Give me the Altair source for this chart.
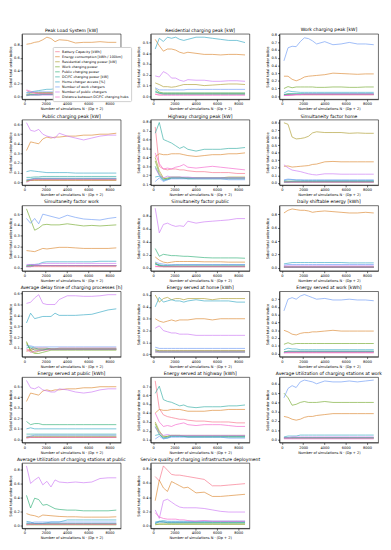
import altair as alt
import pandas as pd

X = [192, 576, 960, 1344, 1728, 2112, 2496, 2880, 3264, 4032, 4800, 5568, 6336, 7104, 7872, 8640]

PARAMS = ["Battery Capacity [kWh]", "Energy consumption [kWh / 100km]",
          "Residential charging power [kW]", "Work charging power",
          "Public charging power", "DC/FC charging power [kW]",
          "Home charger access [%]", "Number of work chargers",
          "Number of public chargers", "Distance between DC/FC charging hubs"]
COLORS = ["#f77189", "#dc8932", "#ae9d31", "#77ab31", "#33b07a",
          "#36ada4", "#38a9c5", "#6e9bf4", "#cc7af4", "#f565cc"]

TITLES = ["Peak Load System [kW]", "Residential charging peak [kW]", "Work charging peak [kW]",
          "Public charging peak [kW]", "Highway charging peak [kW]", "Simultaneity factor home",
          "Simultaneity factor work", "Simultaneity factor public", "Daily shiftable energy [kWh]",
          "Average delay time of charging processes [h]", "Energy served at home [kWh]",
          "Energy served at work [kWh]", "Energy served at public [kWh]",
          "Energy served at highway [kWh]", "Average Utilization of charging stations at work",
          "Average Utilization of charging stations at public",
          "Service quality of charging infrastructure deployment"]

P01 = [
 [0.09,0.06,0.05,0.05,0.05,0.05,0.05,0.05,0.05,0.05,0.05,0.05,0.05,0.05,0.05,0.05],
 [0.81,0.82,0.84,0.85,0.88,0.92,0.90,0.85,0.88,0.87,0.83,0.84,0.84,0.85,0.84,0.84],
 [0.03,0.05,0.06,0.06,0.06,0.06,0.06,0.06,0.06,0.06,0.06,0.06,0.06,0.06,0.06,0.06],
 [0.02,0.03,0.03,0.04,0.04,0.04,0.04,0.04,0.04,0.04,0.04,0.04,0.04,0.04,0.04,0.04],
 [0.01,0.02,0.02,0.02,0.03,0.03,0.03,0.03,0.03,0.03,0.03,0.03,0.03,0.03,0.03,0.03],
 [0.02,0.03,0.03,0.03,0.03,0.03,0.03,0.03,0.03,0.03,0.03,0.03,0.03,0.03,0.03,0.03],
 [0.06,0.07,0.08,0.09,0.10,0.11,0.11,0.12,0.11,0.11,0.11,0.11,0.11,0.10,0.10,0.10],
 [0.05,0.06,0.07,0.07,0.07,0.07,0.07,0.07,0.07,0.07,0.07,0.07,0.07,0.07,0.07,0.07],
 [0.02,0.02,0.02,0.02,0.02,0.02,0.02,0.02,0.02,0.02,0.02,0.02,0.02,0.02,0.02,0.02],
 [0.10,0.08,0.05,0.04,0.04,0.04,0.04,0.04,0.04,0.04,0.04,0.04,0.04,0.04,0.04,0.04]]

P02 = [
 [0.02,0.02,0.02,0.02,0.02,0.02,0.02,0.02,0.02,0.02,0.02,0.02,0.02,0.02,0.02,0.02],
 [0.53,0.47,0.42,0.44,0.44,0.43,0.41,0.40,0.41,0.40,0.39,0.39,0.385,0.39,0.39,0.385],
 [0.125,0.11,0.09,0.09,0.085,0.09,0.10,0.11,0.11,0.11,0.10,0.105,0.11,0.115,0.115,0.11],
 [0.07,0.04,0.03,0.03,0.03,0.03,0.03,0.03,0.03,0.03,0.03,0.03,0.03,0.03,0.03,0.03],
 [0.04,0.03,0.03,0.03,0.03,0.03,0.03,0.03,0.03,0.03,0.03,0.03,0.03,0.03,0.03,0.03],
 [0.05,0.03,0.02,0.02,0.02,0.02,0.02,0.02,0.02,0.02,0.02,0.02,0.02,0.02,0.02,0.02],
 [0.44,0.54,0.51,0.55,0.54,0.55,0.53,0.52,0.53,0.55,0.55,0.54,0.53,0.52,0.52,0.50],
 [0.08,0.06,0.06,0.06,0.06,0.06,0.06,0.06,0.065,0.065,0.065,0.065,0.065,0.065,0.065,0.065],
 [0.19,0.18,0.23,0.21,0.17,0.17,0.15,0.14,0.155,0.15,0.15,0.14,0.14,0.145,0.145,0.14],
 [0.02,0.01,0.01,0.01,0.01,0.01,0.01,0.01,0.01,0.01,0.01,0.01,0.01,0.01,0.01,0.01]]

P03 = [
 [0.01,0.02,0.02,0.02,0.02,0.02,0.02,0.02,0.02,0.02,0.02,0.02,0.02,0.02,0.02,0.02],
 [0.26,0.26,0.22,0.20,0.22,0.25,0.26,0.265,0.27,0.28,0.30,0.295,0.29,0.285,0.29,0.29],
 [0.02,0.02,0.02,0.02,0.02,0.02,0.02,0.02,0.02,0.02,0.02,0.02,0.02,0.02,0.02,0.02],
 [0.10,0.125,0.11,0.12,0.12,0.12,0.12,0.12,0.115,0.115,0.12,0.12,0.115,0.115,0.12,0.12],
 [0.02,0.03,0.03,0.03,0.03,0.03,0.03,0.03,0.03,0.03,0.03,0.03,0.03,0.03,0.03,0.03],
 [0.02,0.03,0.03,0.03,0.03,0.03,0.03,0.03,0.03,0.03,0.03,0.03,0.03,0.03,0.03,0.03],
 [0.04,0.07,0.06,0.055,0.05,0.05,0.05,0.05,0.05,0.05,0.05,0.05,0.05,0.05,0.05,0.05],
 [0.46,0.63,0.65,0.645,0.71,0.76,0.75,0.72,0.68,0.71,0.67,0.68,0.70,0.68,0.68,0.67],
 [0.01,0.01,0.02,0.02,0.02,0.03,0.03,0.03,0.03,0.03,0.03,0.03,0.03,0.03,0.03,0.03],
 [0.01,0.01,0.01,0.02,0.02,0.02,0.02,0.02,0.02,0.02,0.02,0.02,0.02,0.02,0.02,0.02]]

P04 = [
 [0.02,0.02,0.02,0.02,0.02,0.02,0.02,0.02,0.02,0.02,0.02,0.02,0.02,0.02,0.02,0.02],
 [0.33,0.42,0.41,0.40,0.45,0.47,0.46,0.47,0.47,0.48,0.48,0.49,0.49,0.50,0.50,0.51],
 [0.01,0.02,0.02,0.02,0.02,0.02,0.02,0.02,0.02,0.02,0.02,0.02,0.02,0.02,0.02,0.02],
 [0.01,0.02,0.03,0.03,0.03,0.03,0.03,0.03,0.03,0.03,0.03,0.03,0.03,0.03,0.03,0.03],
 [0.02,0.03,0.04,0.04,0.04,0.04,0.04,0.04,0.04,0.04,0.04,0.04,0.04,0.04,0.04,0.04],
 [0.05,0.05,0.055,0.055,0.06,0.06,0.06,0.06,0.06,0.06,0.06,0.06,0.06,0.06,0.06,0.06],
 [0.11,0.12,0.115,0.11,0.105,0.10,0.10,0.10,0.10,0.10,0.095,0.095,0.095,0.095,0.095,0.095],
 [0.03,0.03,0.04,0.04,0.04,0.04,0.04,0.04,0.04,0.04,0.04,0.04,0.04,0.04,0.04,0.04],
 [0.62,0.54,0.53,0.55,0.50,0.48,0.47,0.46,0.51,0.48,0.46,0.44,0.46,0.48,0.49,0.49],
 [0.00,0.02,0.03,0.03,0.03,0.03,0.03,0.03,0.03,0.03,0.03,0.03,0.03,0.03,0.03,0.03]]

P05 = [
 [0.74,0.30,0.27,0.26,0.27,0.27,0.26,0.26,0.25,0.24,0.24,0.23,0.23,0.23,0.22,0.22],
 [0.41,0.44,0.43,0.43,0.44,0.44,0.44,0.43,0.42,0.41,0.42,0.43,0.43,0.44,0.44,0.45],
 [0.40,0.25,0.17,0.16,0.17,0.17,0.17,0.17,0.17,0.17,0.17,0.17,0.17,0.18,0.18,0.18],
 [0.36,0.22,0.16,0.17,0.18,0.18,0.18,0.17,0.17,0.17,0.17,0.17,0.17,0.17,0.17,0.17],
 [0.30,0.20,0.15,0.15,0.17,0.17,0.17,0.17,0.16,0.16,0.16,0.16,0.16,0.16,0.16,0.16],
 [0.67,0.79,0.60,0.58,0.56,0.53,0.50,0.52,0.49,0.47,0.49,0.49,0.49,0.50,0.50,0.51],
 [0.18,0.19,0.14,0.16,0.17,0.17,0.17,0.17,0.17,0.17,0.17,0.17,0.17,0.17,0.17,0.17],
 [0.13,0.17,0.13,0.15,0.16,0.16,0.16,0.16,0.16,0.16,0.16,0.16,0.16,0.15,0.15,0.15],
 [0.28,0.20,0.17,0.19,0.18,0.18,0.18,0.18,0.18,0.17,0.17,0.17,0.17,0.17,0.17,0.17],
 [0.45,0.33,0.27,0.28,0.27,0.29,0.30,0.32,0.29,0.28,0.29,0.30,0.29,0.28,0.27,0.26]]

P06 = [
 [0.01,0.01,0.01,0.01,0.01,0.01,0.01,0.01,0.01,0.01,0.01,0.01,0.01,0.01,0.01,0.01],
 [0.22,0.225,0.21,0.215,0.22,0.225,0.23,0.245,0.25,0.28,0.285,0.28,0.28,0.28,0.28,0.28],
 [0.80,0.78,0.61,0.585,0.59,0.60,0.62,0.665,0.68,0.67,0.67,0.67,0.66,0.665,0.66,0.66],
 [0.02,0.02,0.02,0.02,0.02,0.02,0.02,0.02,0.02,0.02,0.02,0.02,0.02,0.02,0.02,0.02],
 [0.01,0.01,0.01,0.01,0.01,0.01,0.01,0.01,0.01,0.01,0.01,0.01,0.01,0.01,0.01,0.01],
 [0.01,0.01,0.02,0.02,0.02,0.02,0.02,0.02,0.02,0.02,0.02,0.02,0.02,0.02,0.02,0.02],
 [0.03,0.04,0.04,0.035,0.035,0.03,0.03,0.03,0.03,0.03,0.03,0.03,0.03,0.03,0.03,0.03],
 [0.04,0.05,0.045,0.04,0.04,0.04,0.04,0.04,0.04,0.04,0.04,0.04,0.04,0.04,0.04,0.04],
 [0.24,0.20,0.17,0.16,0.15,0.135,0.12,0.11,0.105,0.12,0.12,0.115,0.115,0.115,0.115,0.115],
 [0.01,0.01,0.01,0.01,0.01,0.01,0.01,0.01,0.01,0.01,0.01,0.01,0.01,0.01,0.01,0.01]]

P07 = [
 [0.01,0.01,0.01,0.01,0.01,0.01,0.01,0.01,0.01,0.01,0.01,0.01,0.01,0.01,0.01,0.01],
 [0.16,0.155,0.15,0.165,0.18,0.175,0.18,0.185,0.19,0.19,0.185,0.18,0.18,0.18,0.18,0.185],
 [0.02,0.02,0.02,0.02,0.02,0.02,0.02,0.02,0.02,0.02,0.02,0.02,0.02,0.02,0.02,0.02],
 [0.55,0.45,0.35,0.37,0.40,0.405,0.40,0.40,0.40,0.41,0.40,0.39,0.395,0.39,0.395,0.40],
 [0.01,0.02,0.02,0.02,0.02,0.02,0.02,0.02,0.02,0.02,0.02,0.02,0.02,0.02,0.02,0.02],
 [0.01,0.01,0.02,0.02,0.02,0.02,0.02,0.02,0.02,0.02,0.02,0.02,0.02,0.02,0.02,0.02],
 [0.02,0.03,0.03,0.035,0.05,0.055,0.055,0.055,0.055,0.055,0.055,0.055,0.055,0.06,0.06,0.06],
 [0.46,0.415,0.46,0.41,0.50,0.49,0.48,0.47,0.46,0.49,0.47,0.455,0.45,0.445,0.46,0.47],
 [0.03,0.03,0.03,0.03,0.04,0.04,0.04,0.04,0.04,0.04,0.04,0.04,0.04,0.04,0.04,0.04],
 [0.01,0.01,0.02,0.02,0.02,0.02,0.02,0.02,0.02,0.02,0.02,0.02,0.02,0.02,0.02,0.02]]

P08 = [
 [0.03,0.02,0.02,0.02,0.02,0.02,0.02,0.02,0.02,0.02,0.02,0.02,0.02,0.02,0.02,0.02],
 [0.17,0.12,0.09,0.08,0.09,0.10,0.10,0.10,0.10,0.10,0.095,0.095,0.095,0.09,0.09,0.09],
 [0.08,0.04,0.03,0.03,0.03,0.03,0.03,0.03,0.03,0.03,0.03,0.03,0.03,0.03,0.03,0.03],
 [0.07,0.03,0.02,0.02,0.02,0.02,0.02,0.02,0.02,0.02,0.02,0.02,0.02,0.02,0.02,0.02],
 [0.30,0.18,0.21,0.20,0.19,0.19,0.185,0.18,0.18,0.17,0.16,0.155,0.155,0.155,0.155,0.15],
 [0.06,0.04,0.03,0.03,0.03,0.03,0.03,0.03,0.03,0.03,0.03,0.03,0.03,0.03,0.03,0.03],
 [0.06,0.05,0.04,0.04,0.045,0.05,0.05,0.05,0.05,0.05,0.05,0.05,0.05,0.05,0.05,0.05],
 [0.09,0.07,0.06,0.05,0.05,0.05,0.05,0.05,0.05,0.05,0.05,0.05,0.05,0.05,0.05,0.05],
 [0.92,0.54,0.67,0.69,0.66,0.64,0.65,0.64,0.72,0.69,0.71,0.72,0.73,0.74,0.76,0.76],
 [0.02,0.02,0.02,0.02,0.02,0.02,0.02,0.02,0.02,0.02,0.02,0.02,0.02,0.02,0.02,0.02]]

P09 = [
 [0.02,0.02,0.02,0.02,0.02,0.02,0.02,0.02,0.02,0.02,0.02,0.02,0.02,0.02,0.02,0.02],
 [0.82,0.86,0.88,0.87,0.86,0.86,0.85,0.83,0.84,0.85,0.84,0.83,0.82,0.82,0.83,0.82],
 [0.01,0.01,0.01,0.01,0.01,0.01,0.01,0.01,0.01,0.01,0.01,0.01,0.01,0.01,0.01,0.01],
 [0.01,0.01,0.01,0.01,0.01,0.01,0.01,0.01,0.01,0.01,0.01,0.01,0.01,0.01,0.01,0.01],
 [0.01,0.01,0.01,0.01,0.01,0.01,0.01,0.01,0.01,0.01,0.01,0.01,0.01,0.01,0.01,0.01],
 [0.01,0.01,0.01,0.01,0.01,0.01,0.01,0.01,0.01,0.01,0.01,0.01,0.01,0.01,0.01,0.01],
 [0.06,0.07,0.08,0.08,0.08,0.08,0.08,0.08,0.08,0.08,0.08,0.08,0.075,0.075,0.075,0.075],
 [0.04,0.05,0.05,0.05,0.05,0.05,0.05,0.05,0.05,0.05,0.05,0.05,0.05,0.05,0.05,0.05],
 [0.03,0.03,0.03,0.03,0.03,0.03,0.03,0.03,0.03,0.03,0.03,0.03,0.03,0.03,0.03,0.03],
 [0.01,0.01,0.01,0.01,0.01,0.01,0.01,0.01,0.01,0.01,0.01,0.01,0.01,0.01,0.01,0.01]]

P10 = [
 [0.08,0.09,0.10,0.10,0.10,0.10,0.09,0.09,0.10,0.10,0.10,0.10,0.10,0.10,0.10,0.10],
 [0.07,0.08,0.09,0.09,0.09,0.09,0.09,0.09,0.09,0.09,0.09,0.09,0.09,0.09,0.09,0.09],
 [0.15,0.08,0.06,0.07,0.08,0.09,0.09,0.09,0.09,0.09,0.09,0.09,0.09,0.09,0.09,0.09],
 [0.16,0.07,0.05,0.05,0.06,0.07,0.08,0.08,0.08,0.08,0.08,0.08,0.08,0.08,0.08,0.08],
 [0.13,0.10,0.08,0.08,0.08,0.09,0.09,0.09,0.09,0.09,0.09,0.09,0.09,0.09,0.09,0.09],
 [0.10,0.11,0.10,0.09,0.09,0.09,0.09,0.09,0.09,0.09,0.09,0.09,0.09,0.09,0.09,0.09],
 [0.33,0.42,0.37,0.38,0.39,0.39,0.39,0.42,0.40,0.40,0.40,0.405,0.41,0.43,0.45,0.46],
 [0.12,0.12,0.11,0.11,0.11,0.11,0.11,0.11,0.11,0.11,0.11,0.11,0.11,0.11,0.11,0.11],
 [0.51,0.52,0.56,0.59,0.51,0.50,0.50,0.50,0.545,0.58,0.58,0.575,0.575,0.58,0.59,0.59],
 [0.09,0.06,0.07,0.08,0.08,0.08,0.09,0.09,0.09,0.09,0.09,0.09,0.09,0.09,0.09,0.09]]

P11 = [
 [0.03,0.03,0.03,0.03,0.03,0.03,0.03,0.03,0.03,0.03,0.03,0.03,0.03,0.03,0.03,0.03],
 [0.30,0.28,0.27,0.28,0.29,0.28,0.29,0.29,0.29,0.30,0.30,0.29,0.30,0.30,0.30,0.30],
 [0.50,0.44,0.47,0.48,0.46,0.47,0.47,0.46,0.47,0.47,0.47,0.46,0.47,0.47,0.47,0.47],
 [0.04,0.03,0.03,0.03,0.03,0.03,0.03,0.03,0.03,0.03,0.03,0.03,0.03,0.03,0.03,0.03],
 [0.02,0.02,0.02,0.02,0.02,0.02,0.02,0.02,0.02,0.02,0.02,0.02,0.02,0.02,0.02,0.02],
 [0.03,0.02,0.02,0.02,0.02,0.02,0.02,0.02,0.02,0.02,0.02,0.02,0.02,0.02,0.02,0.02],
 [0.40,0.48,0.44,0.45,0.46,0.45,0.45,0.44,0.45,0.46,0.45,0.45,0.45,0.45,0.44,0.44],
 [0.06,0.05,0.05,0.05,0.05,0.05,0.05,0.05,0.05,0.05,0.05,0.05,0.05,0.05,0.05,0.05],
 [0.22,0.24,0.20,0.19,0.18,0.18,0.17,0.17,0.17,0.16,0.16,0.16,0.16,0.16,0.16,0.16],
 [0.02,0.02,0.02,0.02,0.02,0.02,0.02,0.02,0.02,0.02,0.02,0.02,0.02,0.02,0.02,0.02]]

P12 = [
 [0.02,0.02,0.02,0.02,0.02,0.02,0.02,0.02,0.02,0.02,0.02,0.02,0.02,0.02,0.02,0.02],
 [0.30,0.28,0.25,0.24,0.26,0.27,0.27,0.28,0.28,0.29,0.30,0.29,0.29,0.29,0.29,0.29],
 [0.02,0.02,0.02,0.02,0.02,0.02,0.02,0.02,0.02,0.02,0.02,0.02,0.02,0.02,0.02,0.02],
 [0.12,0.14,0.12,0.13,0.13,0.13,0.13,0.13,0.13,0.13,0.13,0.13,0.13,0.13,0.13,0.13],
 [0.02,0.03,0.03,0.03,0.03,0.03,0.03,0.03,0.03,0.03,0.03,0.03,0.03,0.03,0.03,0.03],
 [0.02,0.03,0.03,0.03,0.03,0.03,0.03,0.03,0.03,0.03,0.03,0.03,0.03,0.03,0.03,0.03],
 [0.05,0.07,0.06,0.06,0.05,0.05,0.05,0.05,0.05,0.05,0.05,0.05,0.05,0.05,0.05,0.05],
 [0.55,0.70,0.72,0.70,0.74,0.76,0.74,0.72,0.70,0.71,0.69,0.69,0.70,0.69,0.69,0.68],
 [0.01,0.02,0.02,0.02,0.02,0.02,0.02,0.02,0.02,0.02,0.02,0.02,0.02,0.02,0.02,0.02],
 [0.01,0.01,0.01,0.01,0.01,0.01,0.01,0.01,0.01,0.01,0.01,0.01,0.01,0.01,0.01,0.01]]

P13 = [
 [0.02,0.02,0.02,0.02,0.02,0.02,0.02,0.02,0.02,0.02,0.02,0.02,0.02,0.02,0.02,0.02],
 [0.36,0.44,0.43,0.42,0.46,0.47,0.46,0.47,0.47,0.48,0.48,0.49,0.49,0.50,0.50,0.50],
 [0.02,0.02,0.02,0.02,0.02,0.02,0.02,0.02,0.02,0.02,0.02,0.02,0.02,0.02,0.02,0.02],
 [0.02,0.03,0.03,0.03,0.03,0.03,0.03,0.03,0.03,0.03,0.03,0.03,0.03,0.03,0.03,0.03],
 [0.17,0.14,0.15,0.15,0.14,0.14,0.14,0.14,0.14,0.14,0.14,0.14,0.14,0.14,0.14,0.14],
 [0.05,0.05,0.05,0.05,0.05,0.05,0.05,0.05,0.05,0.05,0.05,0.05,0.05,0.05,0.05,0.05],
 [0.10,0.11,0.10,0.10,0.10,0.10,0.10,0.10,0.10,0.10,0.10,0.10,0.10,0.10,0.10,0.10],
 [0.03,0.03,0.04,0.04,0.04,0.04,0.04,0.04,0.04,0.04,0.04,0.04,0.04,0.04,0.04,0.04],
 [0.56,0.49,0.48,0.50,0.47,0.46,0.45,0.45,0.48,0.47,0.45,0.44,0.45,0.47,0.48,0.48],
 [0.01,0.02,0.02,0.02,0.02,0.02,0.02,0.02,0.02,0.02,0.02,0.02,0.02,0.02,0.02,0.02]]

P14 = [
 [0.76,0.45,0.38,0.36,0.35,0.34,0.33,0.33,0.32,0.31,0.31,0.30,0.30,0.30,0.29,0.29],
 [0.40,0.44,0.43,0.43,0.44,0.44,0.44,0.43,0.42,0.42,0.42,0.43,0.43,0.44,0.44,0.44],
 [0.30,0.20,0.14,0.14,0.15,0.15,0.15,0.15,0.15,0.15,0.15,0.15,0.15,0.15,0.15,0.15],
 [0.28,0.18,0.13,0.14,0.15,0.15,0.15,0.14,0.14,0.14,0.14,0.14,0.14,0.14,0.14,0.14],
 [0.25,0.16,0.12,0.12,0.14,0.14,0.14,0.14,0.13,0.13,0.13,0.13,0.13,0.13,0.13,0.13],
 [0.62,0.70,0.55,0.53,0.52,0.50,0.48,0.49,0.47,0.46,0.47,0.47,0.47,0.48,0.48,0.49],
 [0.15,0.16,0.12,0.13,0.14,0.14,0.14,0.14,0.14,0.14,0.14,0.14,0.14,0.14,0.14,0.14],
 [0.11,0.14,0.11,0.12,0.13,0.13,0.13,0.13,0.13,0.13,0.13,0.13,0.13,0.12,0.12,0.12],
 [0.24,0.18,0.15,0.16,0.15,0.15,0.15,0.15,0.15,0.15,0.15,0.15,0.15,0.15,0.15,0.15],
 [0.40,0.30,0.25,0.26,0.25,0.27,0.28,0.29,0.27,0.26,0.27,0.27,0.27,0.26,0.25,0.25]]

P15 = [
 [0.02,0.02,0.02,0.02,0.02,0.02,0.02,0.02,0.02,0.02,0.02,0.02,0.02,0.02,0.02,0.02],
 [0.25,0.24,0.22,0.21,0.22,0.24,0.25,0.25,0.26,0.27,0.28,0.28,0.28,0.28,0.28,0.28],
 [0.02,0.02,0.02,0.02,0.02,0.02,0.02,0.02,0.02,0.02,0.02,0.02,0.02,0.02,0.02,0.02],
 [0.50,0.45,0.37,0.38,0.40,0.41,0.40,0.40,0.40,0.41,0.40,0.40,0.40,0.40,0.40,0.40],
 [0.02,0.02,0.02,0.02,0.02,0.02,0.02,0.02,0.02,0.02,0.02,0.02,0.02,0.02,0.02,0.02],
 [0.02,0.02,0.02,0.02,0.02,0.02,0.02,0.02,0.02,0.02,0.02,0.02,0.02,0.02,0.02,0.02],
 [0.03,0.04,0.04,0.04,0.05,0.05,0.05,0.05,0.05,0.05,0.05,0.05,0.05,0.05,0.05,0.05],
 [0.45,0.55,0.58,0.56,0.62,0.64,0.63,0.62,0.60,0.63,0.62,0.62,0.63,0.62,0.63,0.64],
 [0.02,0.02,0.03,0.03,0.03,0.03,0.03,0.03,0.03,0.03,0.03,0.03,0.03,0.03,0.03,0.03],
 [0.01,0.01,0.01,0.01,0.01,0.01,0.01,0.01,0.01,0.01,0.01,0.01,0.01,0.01,0.01,0.01]]

P16 = [
 [0.02,0.02,0.02,0.02,0.02,0.02,0.02,0.02,0.02,0.02,0.02,0.02,0.02,0.02,0.02,0.02],
 [0.17,0.15,0.14,0.12,0.15,0.145,0.14,0.135,0.13,0.125,0.125,0.12,0.12,0.12,0.12,0.125],
 [0.02,0.02,0.02,0.02,0.02,0.02,0.02,0.02,0.02,0.02,0.02,0.02,0.02,0.02,0.02,0.02],
 [0.01,0.01,0.01,0.01,0.01,0.01,0.01,0.01,0.01,0.01,0.01,0.01,0.01,0.01,0.01,0.01],
 [0.43,0.25,0.39,0.37,0.29,0.30,0.27,0.24,0.23,0.22,0.22,0.21,0.21,0.21,0.21,0.22],
 [0.03,0.03,0.03,0.03,0.03,0.03,0.03,0.03,0.03,0.03,0.03,0.03,0.03,0.03,0.03,0.03],
 [0.06,0.05,0.03,0.03,0.03,0.04,0.05,0.05,0.05,0.08,0.08,0.08,0.08,0.08,0.08,0.08],
 [0.04,0.04,0.05,0.05,0.05,0.05,0.05,0.05,0.05,0.05,0.05,0.05,0.05,0.05,0.05,0.05],
 [0.85,0.60,0.65,0.69,0.58,0.63,0.55,0.65,0.62,0.61,0.62,0.61,0.62,0.67,0.68,0.68],
 [0.01,0.02,0.02,0.02,0.02,0.02,0.02,0.02,0.02,0.02,0.02,0.02,0.02,0.02,0.02,0.02]]

P17 = [
 [0.69,0.63,0.84,0.78,0.72,0.71,0.71,0.70,0.69,0.67,0.65,0.56,0.56,0.57,0.58,0.59],
 [0.35,0.64,0.53,0.48,0.62,0.59,0.56,0.53,0.54,0.46,0.47,0.41,0.41,0.42,0.43,0.44],
 [0.01,0.02,0.02,0.02,0.02,0.02,0.02,0.02,0.02,0.02,0.02,0.02,0.02,0.02,0.02,0.02],
 [0.02,0.02,0.02,0.02,0.02,0.02,0.02,0.02,0.02,0.02,0.02,0.02,0.02,0.02,0.02,0.02],
 [0.03,0.05,0.05,0.04,0.04,0.04,0.04,0.04,0.04,0.04,0.04,0.04,0.04,0.04,0.04,0.04],
 [0.03,0.06,0.05,0.04,0.04,0.04,0.04,0.04,0.04,0.04,0.04,0.04,0.04,0.04,0.04,0.04],
 [0.05,0.06,0.07,0.06,0.06,0.06,0.06,0.06,0.06,0.06,0.06,0.06,0.06,0.06,0.06,0.06],
 [0.04,0.05,0.05,0.05,0.05,0.05,0.05,0.05,0.05,0.06,0.06,0.06,0.06,0.06,0.06,0.06],
 [0.22,0.10,0.35,0.37,0.33,0.29,0.26,0.25,0.25,0.25,0.24,0.22,0.20,0.19,0.19,0.19],
 [0.18,0.12,0.10,0.09,0.09,0.09,0.08,0.08,0.07,0.06,0.07,0.06,0.06,0.06,0.06,0.06]]

DATA = [P01, P02, P03, P04, P05, P06, P07, P08, P09, P10, P11, P12, P13, P14, P15, P16, P17]

def ticks(a, b, s):
    n = int(round((b - a) / s))
    return [round(a + k * s, 2) for k in range(n + 1)]

YDOM = [[-0.045, 0.97], [-0.027, 0.58], [-0.04, 0.81], [-0.03, 0.65], [0.09, 0.82],
        [-0.03, 0.84], [-0.03, 0.58], [-0.045, 0.96], [-0.045, 0.93], [0.02, 0.62],
        [-0.02, 0.53], [-0.04, 0.80], [-0.03, 0.59], [0.07, 0.80], [-0.03, 0.67],
        [-0.04, 0.89], [-0.04, 0.88]]
YTICKS = [ticks(0, 0.8, 0.2), ticks(0, 0.5, 0.1), ticks(0, 0.8, 0.1), ticks(0, 0.6, 0.1),
          ticks(0.1, 0.8, 0.1), ticks(0, 0.8, 0.1), ticks(0, 0.5, 0.1), ticks(0, 0.8, 0.2),
          ticks(0, 0.8, 0.2), ticks(0.1, 0.6, 0.1), ticks(0, 0.5, 0.1), ticks(0, 0.7, 0.1),
          ticks(0, 0.5, 0.1), ticks(0.1, 0.7, 0.1), ticks(0, 0.6, 0.1), ticks(0, 0.8, 0.2),
          ticks(0, 0.8, 0.2)]

W, H = 106, 70
FONT = "DejaVu Sans"

def panel(i):
    rows = []
    for p, series in zip(PARAMS, DATA[i]):
        for x, v in zip(X, series):
            rows.append({"x": x, "v": v, "p": p})
    df = pd.DataFrame(rows)
    if i == 0:
        legend = alt.Legend(orient="none", legendX=33, legendY=14, title=None,
                            symbolType="stroke", symbolSize=24, symbolStrokeWidth=1,
                            symbolOpacity=0.7,
                            labelFontSize=3.6, labelFont=FONT, rowPadding=0.4,
                            padding=2, fillColor="white", strokeColor="#cccccc",
                            cornerRadius=1, labelLimit=200, labelOffset=2)
        color = alt.Color("p:N", scale=alt.Scale(domain=PARAMS, range=COLORS),
                          sort=PARAMS, legend=legend)
    else:
        color = alt.Color("p:N", scale=alt.Scale(domain=PARAMS, range=COLORS),
                          sort=PARAMS, legend=None)
    return alt.Chart(df).mark_line(strokeWidth=1, opacity=0.7, clip=True).encode(
        x=alt.X("x:Q", scale=alt.Scale(domain=[-230, 9070], nice=False, zero=False),
                axis=alt.Axis(values=[0, 2000, 4000, 6000, 8000], format="d",
                              title="Number of simulations N \u00b7 (Dp + 2)")),
        y=alt.Y("v:Q", scale=alt.Scale(domain=YDOM[i], nice=False, zero=False),
                axis=alt.Axis(values=YTICKS[i], format=".1f",
                              title="Sobol total order indice")),
        color=color,
        order=alt.Order("x:Q"),
    ).properties(width=W, height=H,
                 title=alt.Title(TITLES[i], fontSize=4.8, fontWeight="normal",
                                 font=FONT, offset=1.5, color="black"))

chart = alt.concat(*[panel(i) for i in range(17)], columns=3,
                   spacing={"row": 2, "column": 5}).resolve_legend(
    color="independent").properties(padding=0).configure_view(
    stroke="black", strokeWidth=0.6).configure_axis(
    labelFontSize=3.8, titleFontSize=3.8, labelFont=FONT, titleFont=FONT,
    titleFontWeight="normal", labelColor="black", titleColor="black",
    domainColor="black", domainWidth=0.6, tickColor="black", tickWidth=0.6,
    tickSize=2, labelPadding=1, titlePadding=1.5, grid=False, labelFlush=False)

chart.save("out.html", embed_options={"renderer": "svg", "actions": False})
